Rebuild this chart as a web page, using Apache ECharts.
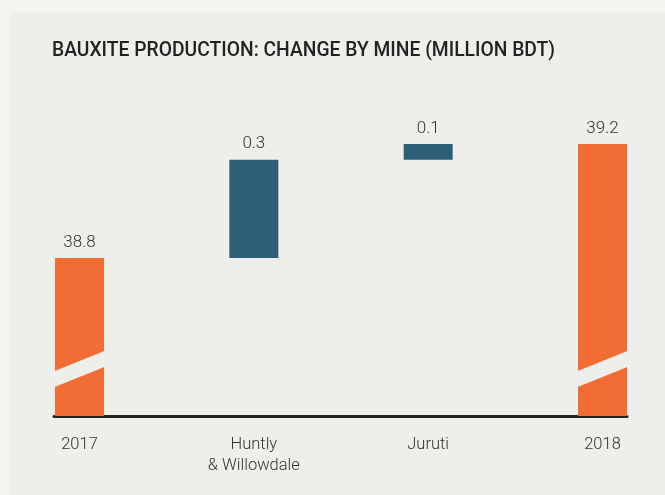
<!DOCTYPE html>
<html>
<head>
<meta charset="utf-8">
<script src="https://cdn.jsdelivr.net/npm/echarts@6/dist/echarts.min.js"></script>
<style>
  html, body { margin: 0; padding: 0; background: #f5f5f0; }
  #main { width: 665px; height: 495px; }
</style>
</head>
<body>
<div id="main"></div>
<script>
var myChart = echarts.init(document.getElementById('main'));

// data
let categories = ['2017', 'Huntly\n& Willowdale', 'Juruti', '2018'];
let totals = [38.8, 39.2];          // 2017, 2018
let changes = [0.345, 0.055];       // Huntly & Willowdale, Juruti

let orange = '#F26D33';
let blue = '#2E5F79';
let panel = '#eeeeea';
let titleText = 'BAUXITE PRODUCTION: CHANGE BY MINE (MILLION BDT)';

// waterfall pieces: [x, start, end]
let totalData = [[0, totals[0]], [3, totals[1]]];
let changeData = [];
let running = totals[0];
changes.forEach((c, i) => {
	changeData.push([i + 1, running, running + c]);
	running += c;
});

// where the break band sits on the orange bars
const breakValue = 38.41;

// squeeze the title into a condensed look
const titleFont = '500 20px Roboto';
let ctx = document.createElement('canvas').getContext('2d');
ctx.font = titleFont;
let titleScale = 503 / ctx.measureText(titleText).width;

const labelStyle = {
	color: '#333',
	fontFamily: 'Roboto, sans-serif',
	fontWeight: 300,
	fontSize: 17
};

option = {
	backgroundColor: '#f5f5f0',
	animation: false,
	graphic: [{
		type: 'rect',
		z: -10,
		shape: { x: 10, y: 12, width: 700, height: 500 },
		style: { fill: panel }
	}, {
		type: 'text',
		x: 52,
		y: 41,
		scaleX: titleScale,
		style: {
			text: titleText,
			font: titleFont,
			fill: '#222',
			verticalAlign: 'top'
		}
	}],
	grid: {
		left: 54,
		right: 38,
		top: 87,
		bottom: 79
	},
	xAxis: {
		type: 'value',
		min: -0.1463,
		max: 3.1405,
		splitLine: { show: false },
		axisTick: { show: false },
		axisLine: {
			show: true,
			lineStyle: { color: '#262626', width: 3 }
		},
		axisLabel: {
			customValues: [0, 1, 2, 3],
			formatter: v => categories[Math.round(v)],
			margin: 18,
			color: '#333',
			fontFamily: 'Roboto, sans-serif',
			fontWeight: 300,
			fontSize: 16.5,
			lineHeight: 21
		}
	},
	yAxis: {
		type: 'value',
		min: 38.245,
		max: 39.4,
		show: false
	},
	series: [{
		name: 'total',
		type: 'bar',
		barWidth: 49,
		itemStyle: { color: orange },
		label: Object.assign({
			show: true,
			position: 'top',
			distance: 7,
			formatter: p => p.value[1].toFixed(1)
		}, labelStyle),
		data: totalData
	}, {
		name: 'change',
		type: 'custom',
		renderItem: function(params, api) {
			let top = api.coord([api.value(0), api.value(2)]);
			let bottom = api.coord([api.value(0), api.value(1)]);
			let hw = 24.5;
			return {
				type: 'rect',
				shape: {
					x: top[0] - hw,
					y: top[1],
					width: hw * 2,
					height: bottom[1] - top[1]
				},
				style: { fill: blue },
				textContent: {
					style: Object.assign({
						text: (api.value(2) - api.value(1)).toFixed(1),
						fill: labelStyle.color,
						font: '300 17px Roboto'
					})
				},
				textConfig: { position: 'top', distance: 7 }
			};
		},
		encode: { x: 0, y: [1, 2] },
		data: changeData
	}, {
		name: 'break',
		type: 'custom',
		z: 5,
		silent: true,
		renderItem: function(params, api) {
			let pt = api.coord([api.value(0), breakValue]);
			let hw = 26, skew = 10.5, half = 8;
			return {
				type: 'polygon',
				shape: {
					points: [
						[pt[0] - hw, pt[1] + skew - half],
						[pt[0] + hw, pt[1] - skew - half],
						[pt[0] + hw, pt[1] - skew + half],
						[pt[0] - hw, pt[1] + skew + half]
					]
				},
				style: { fill: panel }
			};
		},
		data: totalData.map(d => [d[0]])
	}]
};
myChart.setOption(option);
</script>
</body>
</html>
